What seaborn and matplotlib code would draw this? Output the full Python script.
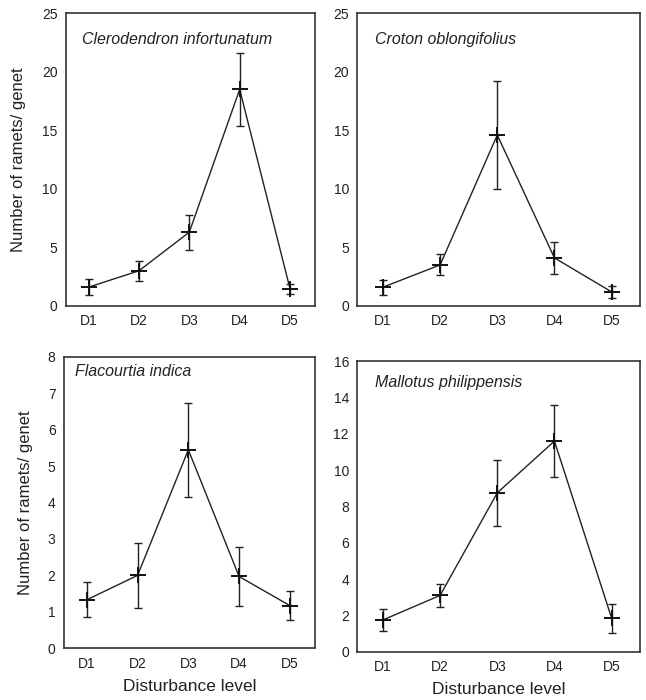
import matplotlib
matplotlib.use("Agg")
import matplotlib.pyplot as plt
import seaborn as sns
import pandas as pd

sns.set_theme(style="white")
plt.rcParams['font.family'] = ['Liberation Sans', 'DejaVu Sans']

levels = ["D1", "D2", "D3", "D4", "D5"]

species = ["Clerodendron infortunatum", "Croton oblongifolius",
           "Flacourtia indica", "Mallotus philippensis"]

clero_mean = [1.6, 3.0, 6.3, 18.5, 1.45]
clero_err = [0.7, 0.85, 1.5, 3.1, 0.42]
croton_mean = [1.6, 3.5, 14.6, 4.1, 1.2]
croton_err = [0.65, 0.9, 4.6, 1.4, 0.5]
flac_mean = [1.33, 2.0, 5.45, 1.97, 1.17]
flac_err = [0.48, 0.9, 1.3, 0.8, 0.4]
mall_mean = [1.75, 3.1, 8.75, 11.6, 1.85]
mall_err = [0.6, 0.65, 1.8, 2.0, 0.8]

means = [clero_mean, croton_mean, flac_mean, mall_mean]
errs = [clero_err, croton_err, flac_err, mall_err]
ymax = [25, 25, 8, 16]
ysteps = [5, 5, 1, 2]

positions = [
    [0.102, 0.563, 0.386, 0.418],
    [0.553, 0.563, 0.438, 0.418],
    [0.099, 0.074, 0.389, 0.416],
    [0.553, 0.069, 0.438, 0.415],
]
title_pos = [(0.065, 0.91), (0.064, 0.91), (0.045, 0.95), (0.064, 0.925)]
ylab_x = [-0.16, None, -0.124, None]

fig = plt.figure(figsize=(6.46, 7.0), dpi=100)
for i in range(4):
    ax = fig.add_axes(positions[i])
    df = pd.DataFrame({"x": range(5), "y": means[i], "e": errs[i]})
    ax.errorbar(df["x"], df["y"], yerr=df["e"], fmt="none", ecolor="#222222",
                elinewidth=1.0, capsize=3, capthick=1.0, zorder=2)
    sns.lineplot(data=df, x="x", y="y", ax=ax, color="#222222", linewidth=1.0,
                 marker="+", markersize=11, markeredgewidth=1.4,
                 markeredgecolor="#111111", markerfacecolor="#111111", zorder=3)
    ax.set_xlim(-0.45, 4.5)
    ax.set_ylim(0, ymax[i])
    ax.set_yticks(range(0, ymax[i] + 1, ysteps[i]))
    ax.set_xticks(range(5))
    ax.set_xticklabels(levels)
    ax.tick_params(axis="both", length=0, labelsize=10, colors="#222222", pad=6)
    for s in ax.spines.values():
        s.set_color("#333333")
        s.set_linewidth(1.2)
    if i >= 2:
        ax.set_xlabel("Disturbance level", fontsize=12.5, color="#222222")
        ax.xaxis.set_label_coords(0.5, -0.105)
    else:
        ax.set_xlabel("")
    if i % 2 == 0:
        ax.set_ylabel("Number of ramets/ genet", fontsize=12, color="#222222")
        ax.yaxis.set_label_coords(ylab_x[i], 0.5)
    else:
        ax.set_ylabel("")
    ax.text(title_pos[i][0], title_pos[i][1], species[i], transform=ax.transAxes,
            fontsize=11.5, style="italic", color="#222222", va="center", ha="left")

fig.savefig("out.png", dpi=100, facecolor="white")
